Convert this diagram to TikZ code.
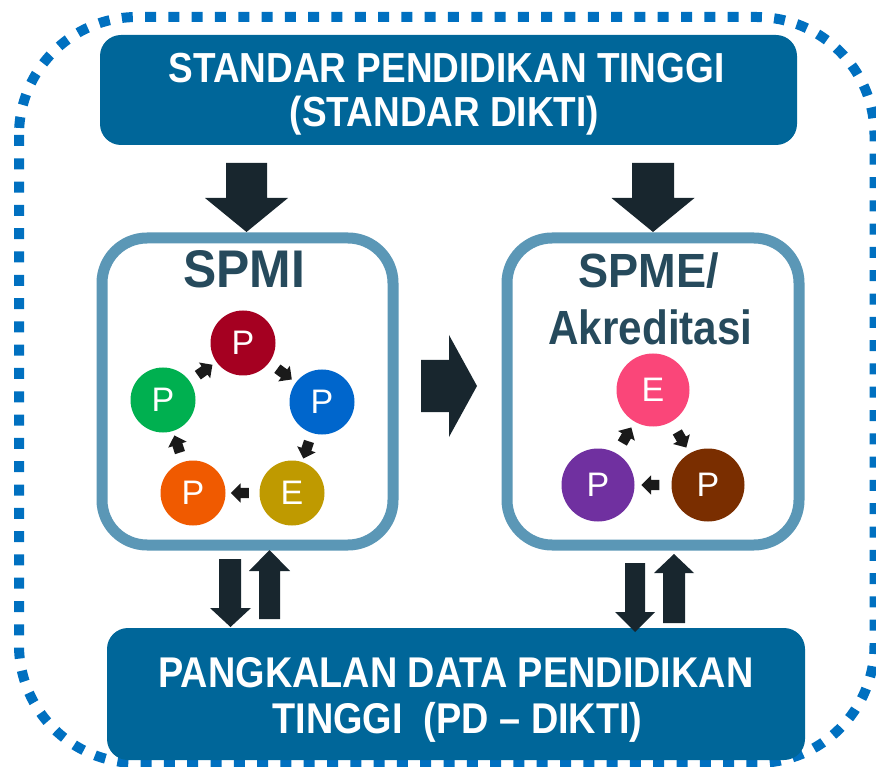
\documentclass[tikz,border=0pt]{standalone}
\usepackage{fontspec}
\setmainfont{Liberation Sans}
\newfontfamily\nfont[FakeStretch=0.88]{Liberation Sans}
\newfontfamily\tfont[FakeStretch=0.94]{Liberation Sans}
\usetikzlibrary{shapes.arrows,calc}
\definecolor{bannerc}{HTML}{006699}
\definecolor{dashblue}{HTML}{0070C0}
\definecolor{boxline}{HTML}{5B97B6}
\definecolor{arrdark}{HTML}{18262E}
\definecolor{titlec}{HTML}{264A5C}
\definecolor{smallarr}{HTML}{1A1A1A}
\definecolor{cRed}{HTML}{A50021}
\definecolor{cBlue}{HTML}{0066CC}
\definecolor{cGold}{HTML}{BF9A00}
\definecolor{cOrange}{HTML}{F05A00}
\definecolor{cGreen}{HTML}{00B050}
\definecolor{cPink}{HTML}{FA4679}
\definecolor{cPurple}{HTML}{7030A0}
\definecolor{cBrown}{HTML}{7A2E00}
\begin{document}
\begin{tikzpicture}[x=1pt,y=-1pt,
  border/.style={draw=dashblue, line width=10pt, dash pattern=on 11pt off 12.3pt, rounded corners=118pt},
  bannerbox/.style={fill=bannerc, draw=none, rounded corners=21pt, inner sep=0pt},
  bannertext/.style={anchor=base, text=white, inner sep=0pt, font=\nfont\bfseries\fontsize{42}{42}\selectfont},
  bannertextb/.style={anchor=base, text=white, inner sep=0pt, font=\nfont\bfseries\fontsize{43}{43}\selectfont},
  sysbox/.style={draw=boxline, line width=11pt, fill=white, rounded corners=45pt, minimum width=291pt, minimum height=307pt, inner sep=0pt},
  titletext/.style={anchor=base, text=titlec, inner sep=0pt, font=\tfont\bfseries\fontsize{#1}{#1}\selectfont},
  titletextn/.style={anchor=base, text=titlec, inner sep=0pt, font=\nfont\bfseries\fontsize{#1}{#1}\selectfont},
  pdca/.style={circle, fill=#1, text=white, inner sep=0pt, minimum size=65pt, font=\fontsize{34}{34}\selectfont},
  pdcb/.style={circle, fill=#1, text=white, inner sep=0pt, minimum size=73pt, font=\fontsize{34}{34}\selectfont},
  sarrow/.style={single arrow, fill=smallarr, draw=none, inner sep=5pt, single arrow head extend=4.5pt, minimum height=18pt, sloped, allow upside down},
  bigarr/.style={fill=arrdark, draw=none}
]
\useasboundingbox (0,0) rectangle (876,767);

% outer dashed frame
\draw[border] (19,17) rectangle (874.5,763);

% top banner
\node[bannerbox, minimum width=697pt, minimum height=110pt] (top) at (448.5,90) {};
\node[bannertext] (t1) at (446.5,83) {STANDAR PENDIDIKAN TINGGI};
\node[bannertext] (t2) at (444.5,127) {(STANDAR DIKTI)};

% system boxes
\node[sysbox] (spmi) at (247.5,391.5) {};
\node[sysbox, minimum width=292pt] (spme) at (653,391.5) {};
\node[titletext=53] (spmititle) at (244,288) {SPMI};
\node[titletext=48] (spmetitle) at (648.5,288) {SPME/};
\node[titletextn=48] (akrtitle) at (650.5,345) {Akreditasi};

% SPMI cycle
\node[pdca=cRed] (p1) at (243,343) {P};
\node[pdca=cBlue] (p2) at (322,402) {P};
\node[pdca=cGold] (p3) at (292,493) {E};
\node[pdca=cOrange] (p4) at (193,493) {P};
\node[pdca=cGreen] (p5) at (163,400) {P};
\path (p1) -- node[sarrow] (a1) {} (p2);
\path (p2) -- node[sarrow] (a2) {} (p3);
\path (p3) -- node[sarrow] (a3) {} (p4);
\path (p4) -- node[sarrow] (a4) {} (p5);
\path (p5) -- node[sarrow] (a5) {} (p1);

% SPME cycle
\node[pdcb=cPink] (q1) at (653,390) {E};
\node[pdcb=cBrown] (q2) at (708,485) {P};
\node[pdcb=cPurple] (q3) at (598,485) {P};
\path (q1) -- node[sarrow] (b1) {} (q2);
\path (q2) -- node[sarrow] (b2) {} (q3);
\path (q3) -- node[sarrow] (b3) {} (q1);

% bottom banner
\node[bannerbox, minimum width=698pt, minimum height=132pt] (bot) at (456,694) {};
\node[bannertextb] (u1) at (456,687) {PANGKALAN DATA PENDIDIKAN};
\node[bannertextb] (u2) at (457.5,733) {TINGGI\ \ (PD – DIKTI)};

% big block arrows
\fill[bigarr] (226,163) -- (267,163) -- (267,198) -- (288,198) -- (246.5,232) -- (205,198) -- (226,198) -- cycle;
\fill[bigarr] (632,163) -- (674,163) -- (674,198) -- (694.5,198) -- (653,232) -- (611.5,198) -- (632,198) -- cycle;
\fill[bigarr] (421,360) -- (449,360) -- (449,335) -- (477,386) -- (449,437) -- (449,412) -- (421,412) -- cycle;
\fill[bigarr] (219,559) -- (241,559) -- (241,608) -- (251,608) -- (230.5,627) -- (210,608) -- (219,608) -- cycle;
\fill[bigarr] (259,619) -- (280,619) -- (280,571) -- (290,571) -- (269.5,550) -- (249,571) -- (259,571) -- cycle;
\fill[bigarr] (625,563) -- (645,563) -- (645,612) -- (655,612) -- (635,632) -- (615,612) -- (625,612) -- cycle;
\fill[bigarr] (663,623) -- (685,623) -- (685,573) -- (694,573) -- (674,554) -- (654,573) -- (663,573) -- cycle;
\end{tikzpicture}
\end{document}
